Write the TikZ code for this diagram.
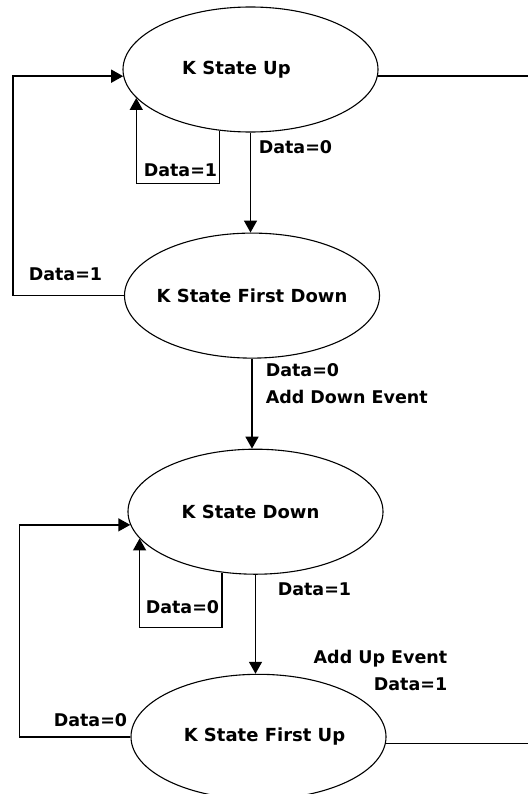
\documentclass[tikz,border=0pt]{standalone}
\usepackage{fontspec}
\setmainfont{DejaVu Sans}
\usetikzlibrary{arrows.meta}
\usetikzlibrary{shapes.geometric}
\usetikzlibrary{calc}
\usetikzlibrary{positioning}

\begin{document}
\begin{tikzpicture}[x=1bp,y=1bp,>={Triangle[width=13bp,length=12bp]},line width=1.5bp]
 \tikzstyle{state}=[draw, ellipse, line width=1.1bp, minimum width=255bp, minimum height=125bp,
                    inner xsep=-15bp, inner ysep=0pt, font=\fontsize{18bp}{21bp}\selectfont\bfseries]
 \tikzstyle{lbl}=[inner sep=0pt, font=\fontsize{17.5bp}{27bp}\selectfont\bfseries]
 \useasboundingbox (0,0) rectangle (528,-794);
 \coordinate (rim) at (528,0);
 % the four states
 \node[state] (up) at (250.5,-69.5) {\hspace*{-28bp}K State Up};
 \node[state] (fdown) [below=100bp of up, xshift=1.5bp] {K State First Down};
 \node[state] (down) [below=90bp of fdown, xshift=3.5bp] {\hspace*{-10bp}K State Down};
 \node[state] (fup) [below=99bp of down, xshift=3bp] {\hspace*{12bp}K State First Up};
 % up
 \draw[->] (up.243) -- ++(0,-53) -| (up.194);
 \draw[->] (up.south) -- (up.south |- fdown.north);
 \draw (up.357) -- (up.357 -| rim);
 % first down
 \draw[->] (fdown.west) -- ++(-111,0) |- (up.183);
 \draw[->] (fdown.south) -- (fdown.south |- down.north);
 % down
 \draw[->] (down.241) -- ++(0,-55) -| (down.193);
 \draw[->] (down.south) -- (down.south |- fup.north);
 % first up
 \draw[->] (fup.west) -- ++(-111,0) |- (down.186);
 \draw (fup.357) -- (fup.357 -| rim);
 % labels
 \node[lbl, anchor=north west] (lu0) at (258,-140) {Data=0};
 \node[lbl, anchor=north west] (lu1) at (143,-163) {Data=1};
 \node[lbl, anchor=north west] (lfd1) at (28,-267) {Data=1};
 \node[lbl, anchor=north west, align=left] (lfd0) at (265,-363) {Data=0\\Add Down Event};
 \node[lbl, anchor=north west] (ld0) at (145,-600) {Data=0};
 \node[lbl, anchor=north west] (ld1) at (277,-582) {Data=1};
 \node[lbl, anchor=north east, align=right] (lfu1) at (448,-649) {Add Up Event\\Data=1};
 \node[lbl, anchor=north west] (lfu0) at (53,-713) {Data=0};
\end{tikzpicture}
\end{document}
